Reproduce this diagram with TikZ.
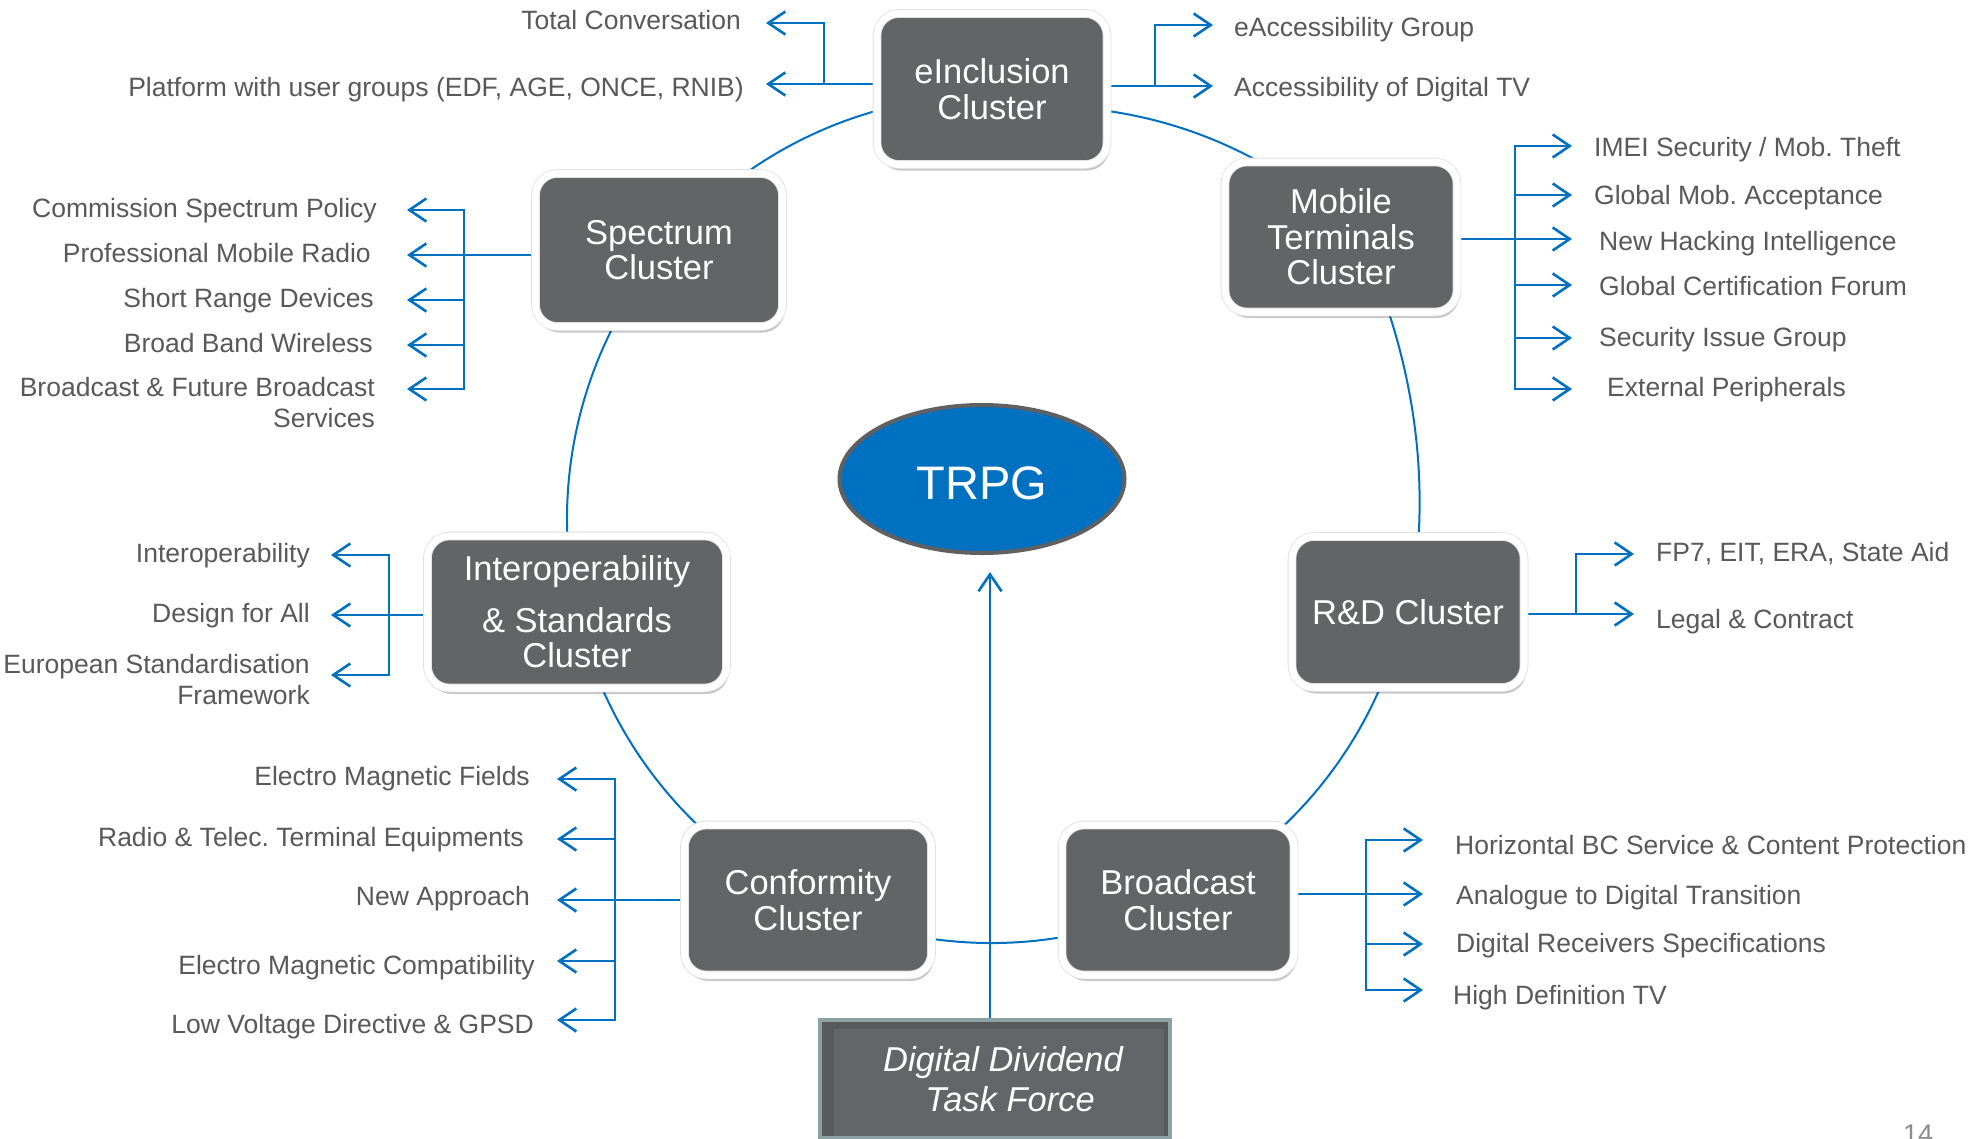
\documentclass[tikz,border=0pt]{standalone}
\usepackage{fontspec}
\setmainfont{Liberation Sans}
\usetikzlibrary{arrows.meta,shadows,shapes.geometric,backgrounds}
\definecolor{bblue}{RGB}{0,112,192}
\definecolor{boxgray}{RGB}{99,100,102}
\definecolor{txtgray}{RGB}{89,89,89}
\definecolor{ellgray}{RGB}{96,96,98}
\definecolor{ddborder}{RGB}{140,163,166}
\definecolor{dddark}{RGB}{88,89,91}
\definecolor{ddlight}{RGB}{100,101,104}
\definecolor{pagegray}{RGB}{140,140,140}
\frenchspacing
\begin{document}
\begin{tikzpicture}[x=1pt,y=-1pt,
  cluster/.style={fill=boxgray, draw=black!12, line width=0.8pt, double=white, double distance=7pt,
    rounded corners=22pt, text=white, font=\fontsize{34.5}{35.5}\selectfont, align=center, inner sep=0pt,
    drop shadow={shadow xshift=2pt, shadow yshift=-6pt, opacity=0.22, fill=black}},
  lbl/.style={text=txtgray, font=\fontsize{26.5}{31}\selectfont, inner sep=0pt},
  ln/.style={draw=bblue, line width=2.6pt, line cap=rect},
  arr/.style={draw=bblue, line width=2.6pt, -{Straight Barb[length=17pt,width=23pt,line width=2.6pt]}},
  ring/.style={draw=bblue, line width=2pt}]
\path[use as bounding box] (0,0) rectangle (1985,1138);

% ---------- cluster boxes ----------
\node[cluster, minimum width=230pt, minimum height=151pt] (einc) at (992,89) {eInclusion\\Cluster};
\node[cluster, minimum width=247pt, minimum height=153pt] (spec) at (659,250) {Spectrum\\Cluster};
\node[cluster, minimum width=232pt, minimum height=150pt] (mob) at (1341,237) {Mobile\\Terminals\\Cluster};
\node[cluster, minimum width=299pt, minimum height=152pt] (iop) at (577,612) {Interoperability\\[16pt]\& Standards\\Cluster};
\node[cluster, minimum width=232pt, minimum height=151pt] (rd) at (1408,612) {R\&D Cluster};
\node[cluster, minimum width=247pt, minimum height=150pt] (conf) at (808,900) {Conformity\\Cluster};
\node[cluster, minimum width=232pt, minimum height=150pt] (bc) at (1178,900) {Broadcast\\Cluster};

% ---------- centre ----------
\node[ellipse, fill=bblue, draw=ellgray, line width=4pt, minimum width=285pt, minimum height=148pt,
  inner sep=0pt, text height=40pt, text depth=0pt, text=white, font=\fontsize{47}{47}\selectfont] (trpg) at (982,479) {TRPG};

% ---------- Digital Dividend ----------
\node[draw=ddborder, line width=4pt, fill=dddark, minimum width=350pt, minimum height=118pt, inner sep=0pt,
  path picture={\fill[ddlight] ([xshift=14pt,yshift=-9pt]path picture bounding box.north west)
     rectangle ([xshift=-6pt]path picture bounding box.south east);},
  text=white, font=\itshape\fontsize{34.5}{40}\selectfont, align=center] (dd) at (995,1079)
  {\hspace*{16pt}Digital Dividend\\\hspace*{30pt}Task Force};

% ---------- labels ----------
\node[lbl, anchor=base east] (ltc) at (741,29.5) {Total Conversation};
\node[lbl, anchor=base east] (lpf) at (744,96.5) {Platform with user groups (EDF, AGE, ONCE, RNIB)};
\node[lbl, anchor=base west] (lea) at (1234,36.5) {eAccessibility Group};
\node[lbl, anchor=base west] (lad) at (1234,96.5) {Accessibility of Digital TV};

\node[lbl, anchor=base east] (ls1) at (377,217.5) {Commission Spectrum Policy};
\node[lbl, anchor=base east] (ls2) at (371,262.5) {Professional Mobile Radio};
\node[lbl, anchor=base east] (ls3) at (374,307.5) {Short Range Devices};
\node[lbl, anchor=base east] (ls4) at (373,352.5) {Broad Band Wireless};
\node[lbl, anchor=east, align=right] (ls5) at (375,402.5) {Broadcast \& Future Broadcast\\Services};

\node[lbl, anchor=base west] (lm1) at (1594,156.5) {IMEI Security / Mob. Theft};
\node[lbl, anchor=base west] (lm2) at (1594,204.5) {Global Mob. Acceptance};
\node[lbl, anchor=base west] (lm3) at (1599,250.5) {New Hacking Intelligence};
\node[lbl, anchor=base west] (lm4) at (1599,295.5) {Global Certification Forum};
\node[lbl, anchor=base west] (lm5) at (1599,346.5) {Security Issue Group};
\node[lbl, anchor=base west] (lm6) at (1607,396.5) {External Peripherals};

\node[lbl, anchor=base east] (li1) at (310,562.5) {Interoperability};
\node[lbl, anchor=base east] (li2) at (310,622.5) {Design for All};
\node[lbl, anchor=east, align=right] (li3) at (310,680) {European Standardisation\\Framework};

\node[lbl, anchor=base west] (lr1) at (1656,561.5) {FP7, EIT, ERA, State Aid};
\node[lbl, anchor=base west] (lr2) at (1656,628.5) {Legal \& Contract};

\node[lbl, anchor=base east] (lc1) at (530,785.5) {Electro Magnetic Fields};
\node[lbl, anchor=base east] (lc2) at (524,846.5) {Radio \& Telec. Terminal Equipments};
\node[lbl, anchor=base east] (lc3) at (530,905.5) {New Approach};
\node[lbl, anchor=base east] (lc4) at (535,974.5) {Electro Magnetic Compatibility};
\node[lbl, anchor=base east] (lc5) at (534,1033.5) {Low Voltage Directive \& GPSD};

\node[lbl, anchor=base west] (lb1) at (1455,854.5) {Horizontal BC Service \& Content Protection};
\node[lbl, anchor=base west] (lb2) at (1456,904.5) {Analogue to Digital Transition};
\node[lbl, anchor=base west] (lb3) at (1456,952.5) {Digital Receivers Specifications};
\node[lbl, anchor=base west] (lb4) at (1453,1004.5) {High Definition TV};

\node[anchor=base west, text=pagegray, font=\fontsize{27}{27}\selectfont, inner sep=0pt] (pg) at (1903,1143) {14};

% ---------- coordinates ----------
\coordinate (ctr) at (991,519);
\coordinate (tl1) at (766,23);  \coordinate (tl2) at (766,84);  \coordinate (tlb) at (824,84);
\coordinate (tr1) at (1213,25); \coordinate (tr2) at (1213,86); \coordinate (trb) at (1155,86);
\coordinate (sbus) at (464,0);
\coordinate (s1) at (407,210); \coordinate (s2) at (407,255); \coordinate (s3) at (407,300);
\coordinate (s4) at (407,345); \coordinate (s5) at (407,389);
\coordinate (mbus) at (1515,0);
\coordinate (m1) at (1572,146); \coordinate (m2) at (1572,195); \coordinate (m3) at (1572,239);
\coordinate (m4) at (1572,285); \coordinate (m5) at (1572,338); \coordinate (m6) at (1572,389);
\coordinate (ibus) at (389,0);
\coordinate (i1) at (331,555); \coordinate (i2) at (331,615); \coordinate (i3) at (331,675);
\coordinate (rbus) at (1576,0);
\coordinate (r1) at (1634,554); \coordinate (r2) at (1634,614);
\coordinate (cbus) at (615,0);
\coordinate (c1) at (557,779); \coordinate (c2) at (557,839); \coordinate (c3) at (557,900);
\coordinate (c4) at (557,961); \coordinate (c5) at (557,1020);
\coordinate (bbus) at (1366,0);
\coordinate (b1) at (1423,840); \coordinate (b2) at (1423,894); \coordinate (b3) at (1423,944);
\coordinate (b4) at (1423,990);
\coordinate (ddt) at (990,572);
% ring points near the Mobile Terminals cluster
\coordinate (rgA) at (1108,111); \coordinate (rgB) at (1265,165);
\coordinate (rgC) at (1388,310); \coordinate (rgD) at (1418,545);

% ---------- connectors ----------
\begin{scope}[on background layer]
\fill[white] (0,0) rectangle (1985,1138);
% ring linking the clusters
\draw[ring] (ctr) ++(5:424) arc[start angle=5, end angle=286, radius=424];
\draw[ring] (rgA) .. controls (1163.7,119.1) and (1216.1,137.1) .. (rgB);
\draw[ring] (rgC) .. controls (1413,386) and (1424,465) .. (rgD);
% eInclusion
\draw[arr] (einc.west |- tl2) -- (tl2);
\draw[arr] (tlb) |- (tl1);
\draw[arr] (einc.east |- tr2) -- (tr2);
\draw[arr] (trb) |- (tr1);
% Spectrum
\draw[ln] (spec.west |- s2) -- (sbus |- s2);
\draw[ln] (sbus |- s1) -- (sbus |- s5);
\foreach \t in {s1,s2,s3,s4,s5} \draw[arr] (sbus |- \t) -- (\t);
% Mobile
\draw[ln] (mob.east |- m3) -- (mbus |- m3);
\draw[ln] (mbus |- m1) -- (mbus |- m6);
\foreach \t in {m1,m2,m3,m4,m5,m6} \draw[arr] (mbus |- \t) -- (\t);
% Interoperability
\draw[ln] (iop.west |- i2) -- (ibus |- i2);
\draw[ln] (ibus |- i1) -- (ibus |- i3);
\foreach \t in {i1,i2,i3} \draw[arr] (ibus |- \t) -- (\t);
% R&D
\draw[ln] (rd.east |- r2) -- (rbus |- r2);
\draw[ln] (rbus |- r1) -- (rbus |- r2);
\foreach \t in {r1,r2} \draw[arr] (rbus |- \t) -- (\t);
% Conformity
\draw[ln] (conf.west |- c3) -- (cbus |- c3);
\draw[ln] (cbus |- c1) -- (cbus |- c5);
\foreach \t in {c1,c2,c3,c4,c5} \draw[arr] (cbus |- \t) -- (\t);
% Broadcast
\draw[ln] (bc.east |- b2) -- (bbus |- b2);
\draw[ln] (bbus |- b1) -- (bbus |- b4);
\foreach \t in {b1,b2,b3,b4} \draw[arr] (bbus |- \t) -- (\t);
% Digital Dividend to TRPG
\draw[arr] (dd.north -| ddt) -- (ddt);
\end{scope}
\end{tikzpicture}
\end{document}
